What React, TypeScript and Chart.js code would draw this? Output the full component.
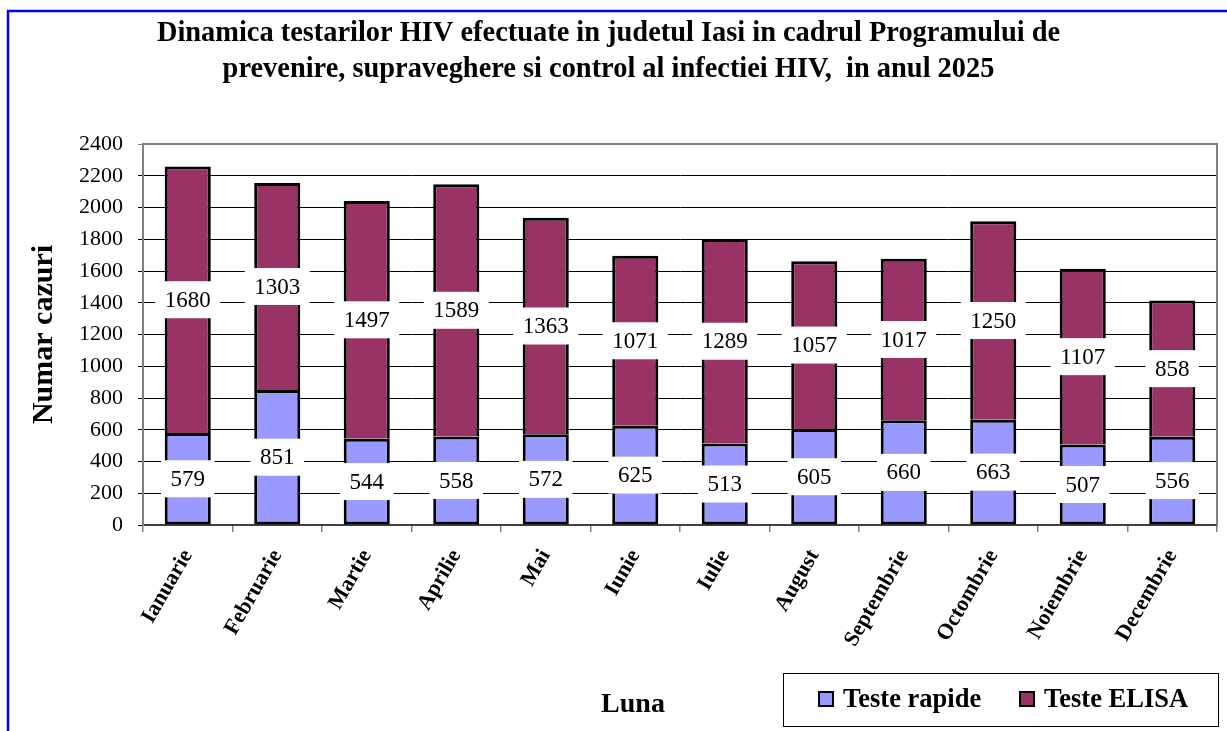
import React, { useEffect, useRef } from "react";
import { Chart, registerables } from "chart.js";

Chart.register(...registerables);

const months = [
  "Ianuarie",
  "Februarie",
  "Martie",
  "Aprilie",
  "Mai",
  "Iunie",
  "Iulie",
  "August",
  "Septembrie",
  "Octombrie",
  "Noiembrie",
  "Decembrie",
];
const testeRapide = [579, 851, 544, 558, 572, 625, 513, 605, 660, 663, 507, 556];
const testeElisa = [1680, 1303, 1497, 1589, 1363, 1071, 1289, 1057, 1017, 1250, 1107, 858];
const seriesNames = ["Teste rapide", "Teste ELISA"];
const titleLines = [
  "Dinamica testarilor HIV efectuate in judetul Iasi in cadrul Programului de",
  "prevenire, supraveghere si control al infectiei HIV,  in anul 2025",
];
const yAxisTitle = "Numar cazuri";
const xAxisTitle = "Luna";
const yMin = 0;
const yMax = 2400;
const yStep = 200;

const FONT = "'Liberation Serif', 'Times New Roman', serif";
const BLUE = "#9999FF";
const MAROON = "#993366";

const framePlugin = {
  id: "frame",
  beforeDraw(chart: any) {
    const { ctx, width, height } = chart;
    ctx.save();
    ctx.fillStyle = "#ffffff";
    ctx.fillRect(0, 0, width, height);
    ctx.strokeStyle = "#0000FF";
    ctx.lineWidth = 2.5;
    ctx.beginPath();
    ctx.moveTo(8, height + 2);
    ctx.lineTo(8, 11);
    ctx.lineTo(width + 2, 11);
    ctx.stroke();
    ctx.restore();
  },
};

const plotBorderPlugin = {
  id: "plotBorder",
  beforeDatasetsDraw(chart: any) {
    const { ctx, chartArea } = chart;
    ctx.save();
    ctx.strokeStyle = "#808080";
    ctx.lineWidth = 2;
    ctx.beginPath();
    ctx.moveTo(chartArea.left, chartArea.top);
    ctx.lineTo(chartArea.right, chartArea.top);
    ctx.lineTo(chartArea.right, chartArea.bottom);
    ctx.stroke();
    ctx.restore();
  },
};

const dataLabelPlugin = {
  id: "dataLabels",
  afterDatasetsDraw(chart: any) {
    const { ctx } = chart;
    ctx.save();
    ctx.font = `23px ${FONT}`;
    ctx.textAlign = "center";
    ctx.textBaseline = "middle";
    chart.data.datasets.forEach((ds: any, di: number) => {
      const meta = chart.getDatasetMeta(di);
      meta.data.forEach((bar: any, i: number) => {
        const txt = String(ds.data[i]);
        const cy = (bar.y + bar.base) / 2;
        const w = ctx.measureText(txt).width + 19;
        const h = 37;
        ctx.fillStyle = "#ffffff";
        ctx.fillRect(bar.x - w / 2, cy - h / 2, w, h);
        ctx.fillStyle = "#000000";
        ctx.fillText(txt, bar.x, cy + 1);
      });
    });
    ctx.restore();
  },
};

const legendPlugin = {
  id: "customLegend",
  afterDraw(chart: any) {
    const { ctx } = chart;
    ctx.save();
    // x-axis title
    ctx.fillStyle = "#000";
    ctx.font = `bold 28px ${FONT}`;
    ctx.textAlign = "center";
    ctx.textBaseline = "alphabetic";
    ctx.fillText(xAxisTitle, 633, 712);

    // legend box
    ctx.strokeStyle = "#000";
    ctx.lineWidth = 1;
    ctx.strokeRect(783.5, 673.5, 435, 53);
    const colors = [BLUE, MAROON];
    const xs = [819, 1020];
    ctx.font = `bold 26.5px ${FONT}`;
    ctx.textAlign = "left";
    ctx.textBaseline = "middle";
    seriesNames.forEach((name, i) => {
      ctx.fillStyle = colors[i];
      ctx.fillRect(xs[i], 692, 14, 14);
      ctx.strokeStyle = "#000";
      ctx.lineWidth = 2;
      ctx.strokeRect(xs[i], 692, 14, 14);
      ctx.fillStyle = "#000";
      ctx.fillText(name, xs[i] + 24, 700);
    });
    ctx.restore();
  },
};

export default function App() {
  const canvasRef = useRef<HTMLCanvasElement | null>(null);

  useEffect(() => {
    const canvas = canvasRef.current;
    if (!canvas) return;
    Chart.defaults.font.family = FONT;
    Chart.defaults.color = "#000";
    const chart = new Chart(canvas, {
      type: "bar",
      data: {
        labels: months,
        datasets: [
          {
            label: seriesNames[0],
            data: testeRapide,
            backgroundColor: BLUE,
            borderColor: "#000",
            borderWidth: 3,
            borderSkipped: false,
            barPercentage: 0.515,
            categoryPercentage: 1,
          },
          {
            label: seriesNames[1],
            data: testeElisa,
            backgroundColor: MAROON,
            borderColor: "#000",
            borderWidth: 3,
            borderSkipped: "bottom",
            barPercentage: 0.515,
            categoryPercentage: 1,
          },
        ],
      },
      options: {
        responsive: false,
        animation: false,
        devicePixelRatio: 1,
        layout: { padding: { left: 0, right: 10, top: 0, bottom: 0 } },
        plugins: {
          legend: { display: false },
          tooltip: { enabled: false },
          title: {
            display: true,
            text: titleLines,
            color: "#000",
            font: { family: FONT, size: 28.4, weight: "bold", lineHeight: 1.25 },
            padding: { top: 16, bottom: 57 },
          },
        },
        scales: {
          x: {
            stacked: true,
            afterFit(scale: any) {
              scale.height = 206;
            },
            grid: {
              display: true,
              offset: true,
              drawOnChartArea: false,
              drawTicks: true,
              tickLength: 7,
              color: "#808080",
              lineWidth: 1.5,
            },
            border: { display: true, color: "#404040", width: 2 },
            ticks: {
              autoSkip: false,
              minRotation: 60,
              maxRotation: 60,
              padding: 13,
              color: "#000",
              font: { family: FONT, size: 22, weight: "bold" },
            },
          },
          y: {
            stacked: true,
            min: yMin,
            max: yMax,
            afterFit(scale: any) {
              scale.width = 143;
            },
            grid: {
              color: (c: any) => (c.tick && c.tick.value === yMax ? "#808080" : "#000"),
              lineWidth: 1,
              tickLength: 5,
            },
            border: { display: true, color: "#808080", width: 2 },
            ticks: {
              stepSize: yStep,
              padding: 15,
              color: "#000",
              font: { family: FONT, size: 22 },
              callback: (v: any) => String(v),
            },
            title: {
              display: true,
              text: yAxisTitle,
              color: "#000",
              font: { family: FONT, size: 30, weight: "bold", lineHeight: 1.2 },
              padding: { top: 26, bottom: 0 },
            },
          },
        },
      },
      plugins: [framePlugin, plotBorderPlugin, dataLabelPlugin, legendPlugin],
    });
    return () => chart.destroy();
  }, []);

  return (
    <div style={{ position: "fixed", left: 0, top: 0, width: 1227, height: 731, background: "#fff" }}>
      <canvas ref={canvasRef} width={1227} height={731} style={{ display: "block", width: 1227, height: 731 }} />
    </div>
  );
}
